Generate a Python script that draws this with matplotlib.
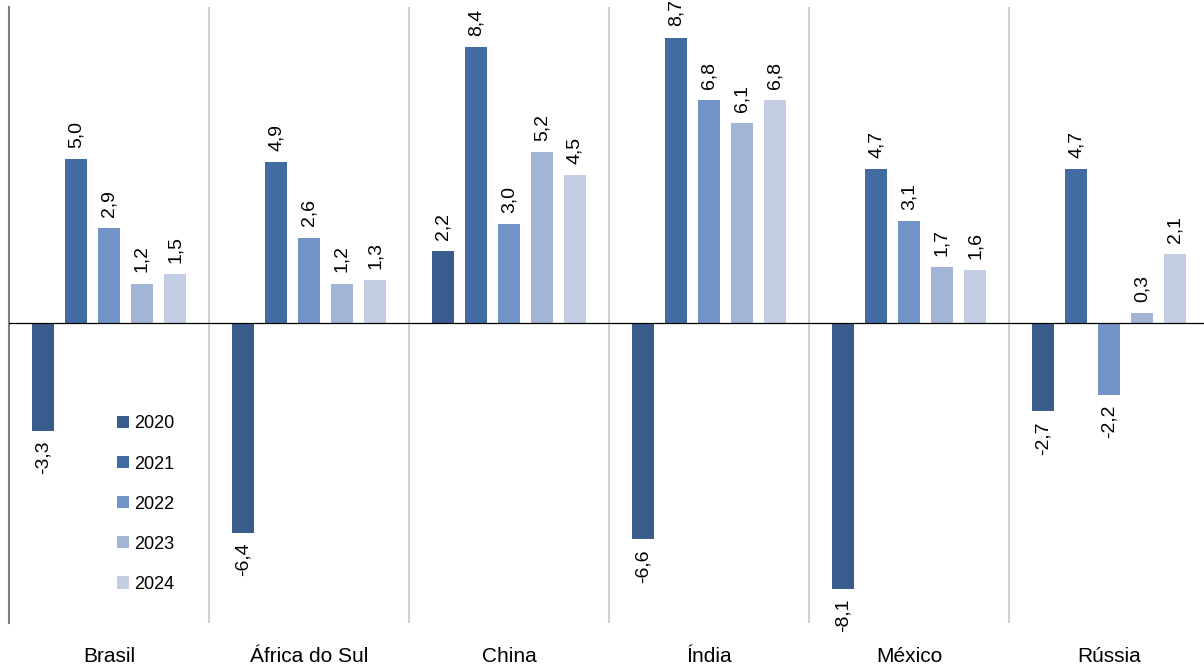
import matplotlib.pyplot as plt
import numpy as np
from matplotlib.patches import Patch

plt.rcParams['font.family'] = ['Liberation Sans', 'DejaVu Sans']

countries = ["Brasil", "África do Sul", "China", "Índia", "México", "Rússia"]
years = ["2020", "2021", "2022", "2023", "2024"]
v2020 = [-3.3, -6.4, 2.2, -6.6, -8.1, -2.7]
v2021 = [5.0, 4.9, 8.4, 8.7, 4.7, 4.7]
v2022 = [2.9, 2.6, 3.0, 6.8, 3.1, -2.2]
v2023 = [1.2, 1.2, 5.2, 6.1, 1.7, 0.3]
v2024 = [1.5, 1.3, 4.5, 6.8, 1.6, 2.1]
series = [v2020, v2021, v2022, v2023, v2024]
colors = ["#3A5C8C", "#426BA1", "#7394C6", "#A3B5D7", "#C3CEE4"]

fig = plt.figure(figsize=(12.04, 6.70), dpi=100)
ax = fig.add_axes([9 / 1204, 47 / 670, 1200 / 1204, 616 / 670])

x = np.arange(len(countries))
step = 0.165
width = 0.112
for i, (vals, col) in enumerate(zip(series, colors)):
    pos = x + (i - 2) * step
    ax.bar(pos, vals, width, color=col, label=years[i], zorder=3)
    for px, v in zip(pos, vals):
        txt = f"{v:.1f}".replace(".", ",")
        if v >= 0:
            ax.annotate(txt, (px, v), xytext=(0, 8), textcoords="offset points",
                        rotation=90, ha="center", va="bottom", fontsize=14)
        else:
            ax.annotate(txt, (px, v), xytext=(0, -7), textcoords="offset points",
                        rotation=90, ha="center", va="top", fontsize=14)

ax.set_xlim(-0.5, len(countries) - 0.5)
ax.set_ylim(-9.15, 9.63)
ax.axhline(0, color="#000000", lw=0.9, zorder=4)
for sep in x[:-1] + 0.5:
    ax.axvline(sep, color="#D0D0D0", lw=1.5, zorder=1)

ax.set_xticks(x)
ax.set_xticklabels(countries, fontsize=15)
ax.tick_params(axis="x", length=0, pad=17)
ax.set_yticks([])
for s in ["top", "right", "bottom"]:
    ax.spines[s].set_visible(False)
ax.spines["left"].set_color("#7F7F7F")
ax.spines["left"].set_linewidth(1.5)

handles = [Patch(facecolor=c, label=y) for c, y in zip(colors, years)]
ax.legend(handles=handles, loc="upper left", bbox_to_anchor=(0.09, 0.337),
          frameon=False, fontsize=13, handlelength=0.65, handleheight=0.65,
          handletextpad=0.3, labelspacing=1.28, borderpad=0, borderaxespad=0)

fig.savefig("out.png", dpi=100)
